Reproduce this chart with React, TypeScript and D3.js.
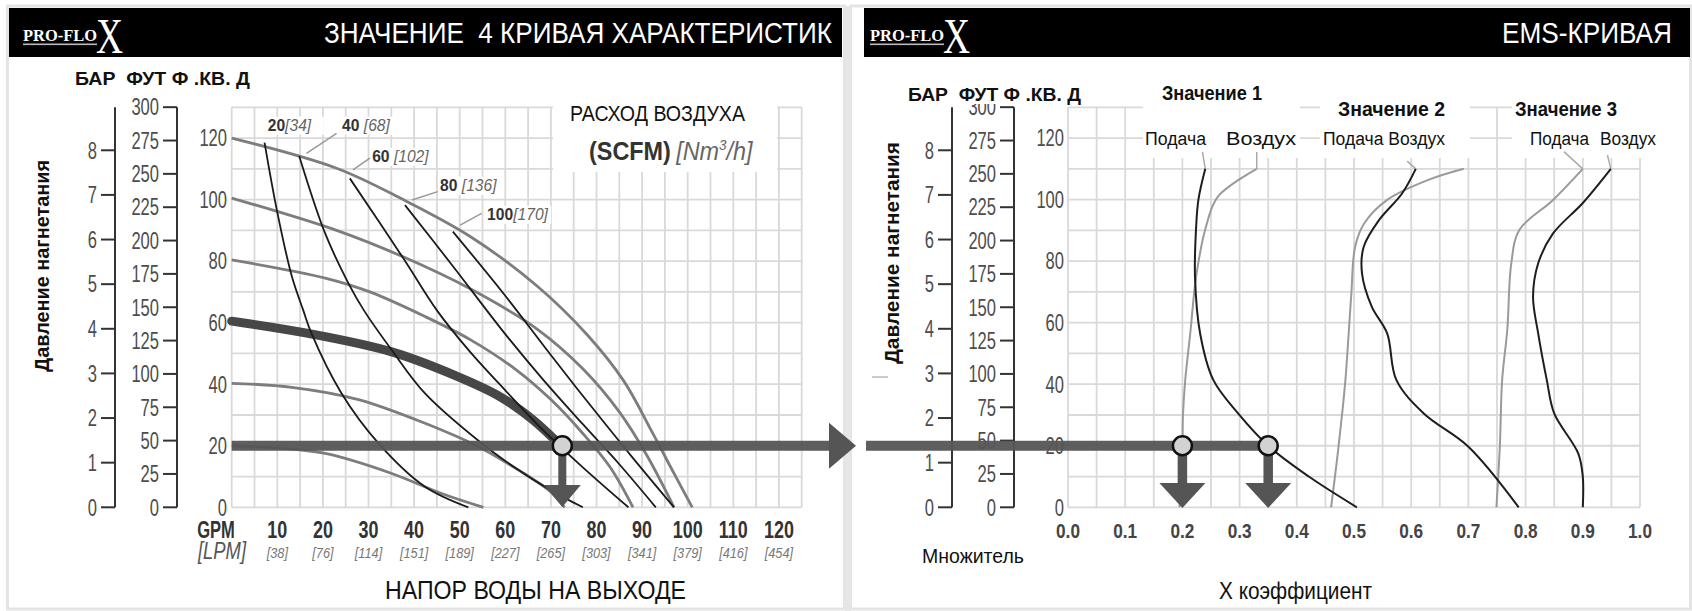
import React from "react";
import * as d3 from "d3";

type P = [number, number];

// ---------------- DATA ----------------
const gpmTicks = [10, 20, 30, 40, 50, 60, 70, 80, 90, 100, 110, 120];
const lpmTicks = [38, 76, 114, 151, 189, 227, 265, 303, 341, 379, 416, 454];
const psiTicks = [0, 20, 40, 60, 80, 100, 120];
const barTicks = [0, 1, 2, 3, 4, 5, 6, 7, 8];
const ftTicks = [0, 25, 50, 75, 100, 125, 150, 175, 200, 225, 250, 275, 300];
const coefTicks = [0, 0.1, 0.2, 0.3, 0.4, 0.5, 0.6, 0.7, 0.8, 0.9, 1.0];

// Left chart: discharge pressure curves (GPM, PSI)
const pressure120: P[] = [[0, 120], [23, 110.2], [37.6, 100], [52.3, 88], [66.9, 72], [78, 56], [86, 41], [92, 25], [97, 11], [101, 0]];
const pressure100: P[] = [[0, 100.5], [23, 90], [37.6, 81.4], [52.3, 71], [66.9, 58], [77, 45], [85, 31], [91, 17], [97, 0]];
const pressure80: P[] = [[0, 80.4], [20.5, 74.5], [30.3, 70], [42.4, 62], [52.3, 54.5], [62.1, 45], [70, 35], [77, 24], [83, 13], [88, 0]];
const pressure60: P[] = [[0, 60.5], [16.8, 56.5], [35.1, 50.5], [49.7, 42.4], [58.8, 36], [66.1, 28.4], [72.4, 19.7]];
const pressure40: P[] = [[0, 40.3], [13.2, 39], [27.8, 35], [42.4, 27.3], [54.1, 19.7], [63, 12], [70, 5], [73, 0]];
const pressure20: P[] = [[0, 20], [10, 19.3], [20.5, 17.5], [35.1, 11], [46, 4.5], [55.2, 0]];

// Left chart: air consumption curves (GPM, PSI)
const air20: P[] = [[7.2, 118.5], [9.9, 96.6], [13.2, 75], [15.7, 64], [17.5, 56.5], [24.1, 37], [32.2, 20.8], [42.4, 6.7], [51.9, 0]];
const air40: P[] = [[14.8, 114.2], [20.5, 89], [25.6, 72.8], [29, 64], [35.1, 51.1], [42.4, 37], [54.8, 20.8], [62, 13], [70, 5.5], [77, 0]];
const air60: P[] = [[25.9, 106.9], [37.6, 81], [45, 64], [52, 51], [60, 38], [68, 25.5], [77, 13], [87, 0]];
const air80: P[] = [[38, 98.2], [48.6, 78.2], [59.6, 57], [68, 42], [77, 27], [85, 14], [93, 0]];
const air100: P[] = [[48.5, 89.6], [59.6, 69.5], [70.5, 48.5], [79, 32.5], [88, 16], [97, 0]];

const airLabelScfm = ["20", "40 ", "60 ", "80 ", "100"];
const airLabelNm3 = ["[34]", "[68]", "[102]", "[136]", "[170]"];
const airLabelAt: P[] = [[7.9, 122.4], [24.2, 122.4], [30.8, 112.3], [45.7, 102.9], [56, 93.4]];
const airLeaders: [P, P][] = [
  [[23, 121.5], [16.4, 115]],
  [[30.3, 113.5], [26.6, 109.7]],
  [[45.2, 102.6], [39.5, 99.9]],
  [[54.8, 95.5], [50.1, 91.7]],
];

// Operating point
const opPsi = 20;
const opGpm = 72.5;
const opCoefs = [0.2, 0.35];

// Right chart: EMS curves (coefficient, PSI)
const ems1Feed: P[] = [[0.24, 110], [0.228, 100], [0.224, 91], [0.222, 75], [0.231, 56.5], [0.254, 41.4], [0.297, 30.6], [0.35, 20], [0.421, 10], [0.505, 0]];
const ems1Air: P[] = [[0.33, 110], [0.262, 101], [0.241, 91], [0.224, 75], [0.214, 57], [0.205, 41.4], [0.201, 30], [0.2, 20], [0.197, 10], [0.195, 0]];
const ems2Feed: P[] = [[0.608, 110], [0.584, 102], [0.544, 93.4], [0.517, 84.7], [0.514, 76], [0.531, 65.2], [0.558, 56.5], [0.574, 41.4], [0.622, 30.5], [0.7, 19.7], [0.788, 0]];
const ems2Air: P[] = [[0.692, 110], [0.63, 106.4], [0.558, 99.9], [0.518, 92.3], [0.502, 84.7], [0.495, 68.4], [0.485, 41.4], [0.479, 30], [0.47, 15], [0.46, 0]];
const ems3Feed: P[] = [[0.9, 110], [0.848, 99.9], [0.789, 90.1], [0.775, 79.3], [0.768, 57.7], [0.759, 41.4], [0.755, 20], [0.749, 0]];
const ems3Air: P[] = [[0.949, 110], [0.9, 98.9], [0.848, 89], [0.822, 79.3], [0.813, 68.4], [0.822, 56.5], [0.837, 41.4], [0.85, 30.5], [0.892, 17.5], [0.9, 10], [0.9, 0]];
const emsConnectors: [P, P][] = [
  [[0.235, 115.5], [0.24, 110]],
  [[0.33, 115.5], [0.33, 110]],
  [[0.593, 112.5], [0.608, 110]],
  [[0.867, 115.6], [0.9, 110]],
  [[0.943, 114.5], [0.949, 110]],
];

// ---------------- SCALES ----------------
const PSI_PER_BAR = 14.5038;
const FT_PER_PSI = 2.307;
const xL = d3.scaleLinear().domain([0, 125]).range([231.7, 801.7]);
const yP = d3.scaleLinear().domain([0, 130]).range([507.3, 107.3]);
const yBar = d3.scaleLinear().domain([0, 8]).range([yP(0), yP(8 * PSI_PER_BAR)]);
const yFt = d3.scaleLinear().domain([0, 300]).range([yP(0), yP(300 / FT_PER_PSI)]);
const xR = d3.scaleLinear().domain([0, 1]).range([1068, 1640]);

const lineL = d3.line<P>().x((d) => xL(d[0])).y((d) => yP(d[1])).curve(d3.curveCatmullRom.alpha(0.5));
const lineR = d3.line<P>().x((d) => xR(d[0])).y((d) => yP(d[1])).curve(d3.curveCatmullRom.alpha(0.5));

const SANS = "'Liberation Sans', Arial, sans-serif";
const SERIF = "'Liberation Serif', 'DejaVu Serif', serif";

function CT(props: any) {
  const { x, y, sx = 0.72, anchor = "start", children, ...rest } = props;
  return (
    <text transform={`translate(${x},${y}) scale(${sx},1)`} textAnchor={anchor} fontFamily={SANS} {...rest}>
      {children}
    </text>
  );
}

function Logo({ x0 }: { x0: number }) {
  return (
    <g>
      <text x={x0} y={41} fontFamily={SERIF} fontWeight="bold" fontSize={17} fill="#fff" textLength={74} lengthAdjust="spacingAndGlyphs">
        PRO-FLO
      </text>
      <rect x={x0} y={43.5} width={74} height={1.6} fill="#bbb" />
      <text transform={`translate(${x0 + 73},${53}) scale(0.75,1)`} fontFamily={SERIF} fontSize={50} fill="#fff">
        X
      </text>
    </g>
  );
}

function Grid({ xs, ys, xScale, x0, x1 }: any) {
  return (
    <g stroke="#d9d9d9" strokeWidth={1.8}>
      {xs.map((v: number, i: number) => (
        <line key={"v" + i} x1={xScale(v)} x2={xScale(v)} y1={yP(130)} y2={yP(0)} />
      ))}
      {ys.map((v: number, i: number) => (
        <line key={"h" + i} x1={x0} x2={x1} y1={yP(v)} y2={yP(v)} />
      ))}
    </g>
  );
}

function PressureAxes({ barX, ftX, psiRight }: { barX: number; ftX: number; psiRight: number }) {
  const fs = 23;
  return (
    <g>
      <line x1={barX} x2={barX} y1={yP(130)} y2={yP(0)} stroke="#333" strokeWidth={2} />
      <line x1={ftX} x2={ftX} y1={yP(130)} y2={yP(0)} stroke="#333" strokeWidth={2} />
      {barTicks.map((b) => (
        <g key={"b" + b}>
          <line x1={barX - 14} x2={barX} y1={yBar(b)} y2={yBar(b)} stroke="#333" strokeWidth={2} />
          <CT x={barX - 18} y={yBar(b) + fs * 0.36} anchor="end" fontSize={fs} fill="#4d4d4d">{b}</CT>
        </g>
      ))}
      {ftTicks.map((f) => (
        <g key={"f" + f}>
          <line x1={ftX - 14} x2={ftX} y1={yFt(f)} y2={yFt(f)} stroke="#333" strokeWidth={2} />
          <CT x={ftX - 18} y={yFt(f) + fs * 0.36} anchor="end" fontSize={fs} fill="#4d4d4d">{f}</CT>
        </g>
      ))}
      {psiTicks.map((p) => (
        <CT key={"p" + p} x={psiRight} y={yP(p) + fs * 0.36} anchor="end" fontSize={fs} fill="#4d4d4d">{p}</CT>
      ))}
    </g>
  );
}

function DownArrow({ x, stemW, headTop, halfW, tip }: any) {
  return (
    <g fill="#555">
      <rect x={x - stemW / 2} y={yP(opPsi)} width={stemW} height={headTop - yP(opPsi) + 1} />
      <path d={`M${x - halfW},${headTop} L${x + halfW},${headTop} L${x},${tip} Z`} />
    </g>
  );
}

export default function App() {
  const xsL = d3.range(0, 126, 5);
  const ysAll = d3.range(0, 131, 10);
  const xsR = d3.range(0, 21).map((i) => i * 0.05);
  const barY = yP(opPsi);
  const grayCurves = [pressure120, pressure100, pressure80, pressure40, pressure20];
  const airCurves = [air20, air40, air60, air80, air100];

  return (
    <svg width={1692} height={611} style={{ position: "absolute", left: 0, top: 0, background: "#fff" }} fontFamily={SANS}>
      <rect x={0} y={0} width={1692} height={611} fill="#fff" />
      {/* panel frames */}
      <rect x={7.5} y={6} width={837} height={603} fill="none" stroke="#e4e4e4" strokeWidth={3} />
      <rect x={850.5} y={6} width={840} height={603} fill="none" stroke="#e4e4e4" strokeWidth={3} />
      <rect x={845} y={6} width={6} height={605} fill="#e6e6e6" />

      {/* headers */}
      <rect x={9} y={8} width={833} height={49} fill="#000" />
      <rect x={864} y={8} width={826} height={49} fill="#000" />
      <Logo x0={23} />
      <Logo x0={870} />
      <text x={324} y={43.3} fontSize={30} fill="#fff" textLength={508} lengthAdjust="spacingAndGlyphs" style={{ whiteSpace: "pre" }}>
        ЗНАЧЕНИЕ  4 КРИВАЯ ХАРАКТЕРИСТИК
      </text>
      <text x={1502} y={43.3} fontSize={30} fill="#fff" textLength={170} lengthAdjust="spacingAndGlyphs">
        EMS-КРИВАЯ
      </text>

      {/* ---------- LEFT CHART ---------- */}
      <text x={75} y={85} fontSize={19} fontWeight="bold" fill="#111" textLength={175} lengthAdjust="spacingAndGlyphs" style={{ whiteSpace: "pre" }}>
        БАР  ФУТ Ф .КВ. Д
      </text>
      <text transform="translate(49,266) rotate(-90)" textAnchor="middle" fontSize={20} fontWeight="bold" fill="#111" textLength={212} lengthAdjust="spacingAndGlyphs">
        Давление нагнетания
      </text>
      <Grid xs={xsL} ys={ysAll} xScale={xL} x0={xL(0)} x1={xL(125)} />
      <rect x={553} y={100} width={224} height={72} fill="#fff" />
      {airLabelAt.map((a, i) => (
        <rect key={"lb" + i} x={xL(a[0]) - 2} y={yP(a[1]) - 14} width={i === 4 ? 66 : 58} height={18} fill="#fff" />
      ))}
      <PressureAxes barX={115} ftX={177} psiRight={227} />

      {grayCurves.map((c, i) => (
        <path key={"g" + i} d={lineL(c) || ""} fill="none" stroke="#7d7d7d" strokeWidth={2.8} />
      ))}
      <path d={lineL(pressure60) || ""} fill="none" stroke="#474747" strokeWidth={9} strokeLinecap="round" />
      {airCurves.map((c, i) => (
        <path key={"a" + i} d={lineL(c) || ""} fill="none" stroke="#1b1b1b" strokeWidth={1.8} />
      ))}
      {airLeaders.map((l, i) => (
        <line key={"ld" + i} x1={xL(l[0][0])} y1={yP(l[0][1])} x2={xL(l[1][0])} y2={yP(l[1][1])} stroke="#999" strokeWidth={1.5} />
      ))}
      {airLabelAt.map((a, i) => (
        <CT key={"al" + i} x={xL(a[0])} y={yP(a[1])} sx={0.92} fontSize={17} fontWeight="bold" fill="#333">
          {airLabelScfm[i]}
          <tspan fontWeight="normal" fontStyle="italic" fill="#666">{airLabelNm3[i]}</tspan>
        </CT>
      ))}
      <text x={570} y={121} fontSize={22} fill="#111" textLength={175} lengthAdjust="spacingAndGlyphs">
        РАСХОД ВОЗДУХА
      </text>
      <CT x={589} y={160} sx={0.9} fontSize={26} fontWeight="bold" fill="#333">
        (SCFM)
        <tspan fontWeight="normal" fontStyle="italic" fill="#666" dx={6}>
          [Nm<tspan fontSize={15} dy={-10}>3</tspan><tspan dy={10}>/h]</tspan>
        </tspan>
      </CT>

      {/* thick horizontal operating bar */}
      <rect x={xL(0)} y={barY - 5} width={829 - xL(0)} height={10} fill="#555" opacity={0.95} />
      <path d={`M829,${barY - 23} L829,${barY + 23} L856,${barY} Z`} fill="#555" />
      <DownArrow x={xL(opGpm)} stemW={8} headTop={485} halfW={18.5} tip={507} />
      <circle cx={xL(opGpm)} cy={barY} r={9.5} fill="#d2d2d2" stroke="#111" strokeWidth={2.5} />

      {/* bottom axis */}
      <CT x={216} y={538} anchor="middle" sx={0.72} fontSize={23} fontWeight="bold" fill="#333">GPM</CT>
      {gpmTicks.map((g) => (
        <CT key={"gt" + g} x={xL(g)} y={538} anchor="middle" sx={0.78} fontSize={23} fontWeight="bold" fill="#333">{g}</CT>
      ))}
      <CT x={222} y={559} anchor="middle" sx={0.8} fontSize={23} fontStyle="italic" fill="#555">[LPM]</CT>
      {lpmTicks.map((l, i) => (
        <CT key={"lt" + l} x={xL(gpmTicks[i])} y={558} anchor="middle" sx={0.85} fontSize={15} fontStyle="italic" fill="#777">[{l}]</CT>
      ))}
      <text x={385} y={599} fontSize={25} fill="#111" textLength={301} lengthAdjust="spacingAndGlyphs">
        НАПОР ВОДЫ НА ВЫХОДЕ
      </text>

      {/* ---------- RIGHT CHART ---------- */}
      <text transform="translate(899,253) rotate(-90)" textAnchor="middle" fontSize={20} fontWeight="bold" fill="#111" textLength={222} lengthAdjust="spacingAndGlyphs">
        Давление нагнетания
      </text>
      <line x1={872} x2={888} y1={377} y2={377} stroke="#bbb" strokeWidth={1.5} />
      <Grid xs={xsR} ys={ysAll} xScale={xR} x0={xR(0)} x1={xR(1)} />
      <rect x={1143} y={82} width={157} height={76} fill="#fff" />
      <rect x={1320} y={98} width={150} height={60} fill="#fff" />
      <rect x={1512} y={98} width={150} height={60} fill="#fff" />
      <PressureAxes barX={952} ftX={1014} psiRight={1064} />
      <rect x={904} y={84} width={180} height={20} fill="#fff" />
      <text x={908} y={101} fontSize={19} fontWeight="bold" fill="#111" textLength={173} lengthAdjust="spacingAndGlyphs" style={{ whiteSpace: "pre" }}>
        БАР  ФУТ Ф .КВ. Д
      </text>

      {emsConnectors.map((l, i) => (
        <line key={"ec" + i} x1={xR(l[0][0])} y1={yP(l[0][1])} x2={xR(l[1][0])} y2={yP(l[1][1])} stroke="#aaa" strokeWidth={1.5} />
      ))}
      {[ems1Air, ems2Air, ems3Feed].map((c, i) => (
        <path key={"eg" + i} d={lineR(c) || ""} fill="none" stroke="#9a9a9a" strokeWidth={2} />
      ))}
      {[ems1Feed, ems2Feed, ems3Air].map((c, i) => (
        <path key={"ed" + i} d={lineR(c) || ""} fill="none" stroke="#1e1e1e" strokeWidth={2} />
      ))}

      <text x={1162} y={100} fontSize={20} fontWeight="bold" fill="#111" textLength={100} lengthAdjust="spacingAndGlyphs">Значение 1</text>
      <text x={1338} y={116} fontSize={20} fontWeight="bold" fill="#111" textLength={107} lengthAdjust="spacingAndGlyphs">Значение 2</text>
      <text x={1515} y={116} fontSize={20} fontWeight="bold" fill="#111" textLength={102} lengthAdjust="spacingAndGlyphs">Значение 3</text>
      <text x={1145} y={145} fontSize={18} fill="#111" textLength={61} lengthAdjust="spacingAndGlyphs">Подача</text>
      <text x={1226} y={145} fontSize={18} fill="#111" textLength={70} lengthAdjust="spacingAndGlyphs">Воздух</text>
      <text x={1323} y={145} fontSize={18} fill="#111" textLength={122} lengthAdjust="spacingAndGlyphs">Подача Воздух</text>
      <text x={1530} y={145} fontSize={18} fill="#111" textLength={59} lengthAdjust="spacingAndGlyphs">Подача</text>
      <text x={1600} y={145} fontSize={18} fill="#111" textLength={56} lengthAdjust="spacingAndGlyphs">Воздух</text>

      <rect x={866} y={barY - 5} width={xR(opCoefs[1]) - 866} height={10} fill="#555" opacity={0.95} />
      {opCoefs.map((c) => (
        <DownArrow key={"da" + c} x={xR(c)} stemW={9.5} headTop={483} halfW={23} tip={508} />
      ))}
      {opCoefs.map((c) => (
        <circle key={"oc" + c} cx={xR(c)} cy={barY} r={9.5} fill="#d2d2d2" stroke="#111" strokeWidth={2.5} />
      ))}

      {coefTicks.map((c) => (
        <CT key={"ct" + c} x={xR(c)} y={538} anchor="middle" sx={0.82} fontSize={21} fontWeight="bold" fill="#444">
          {c.toFixed(1)}
        </CT>
      ))}
      <text x={922} y={563} fontSize={20} fill="#111" textLength={102} lengthAdjust="spacingAndGlyphs">Множитель</text>
      <text x={1219} y={599} fontSize={23} fill="#111" textLength={153} lengthAdjust="spacingAndGlyphs">X коэффициент</text>
    </svg>
  );
}
